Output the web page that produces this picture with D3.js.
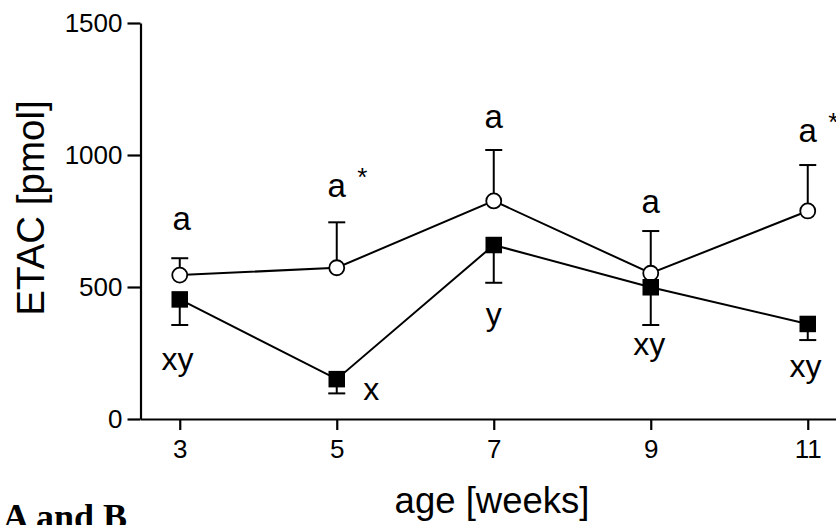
<!DOCTYPE html>
<html>
<head>
<meta charset="utf-8">
<script src="https://cdn.jsdelivr.net/npm/d3@7/dist/d3.min.js"></script>
<style>
  html, body { margin: 0; padding: 0; background: #fff; }
  svg { display: block; }
  text { font-family: "Liberation Sans", Arial, Helvetica, sans-serif; fill: #000; }
  .axis text { font-size: 26px; }
</style>
</head>
<body>
<svg id="chart" width="836" height="525"></svg>
<script>
// Sampling ages (weeks)
const weeks = [3, 5, 7, 9, 11];

// Open-circle group: mean and SEM (error bars drawn upward)
const openMeans = [545, 573, 826, 552, 788];
const openSem   = [64, 172, 193, 160, 174];

// Filled-square group: mean and SEM (error bars drawn downward)
const filledMeans = [453, 151, 659, 499, 360];
const filledSem   = [97, 54, 143, 143, 61];

// Axis ticks
const yTicks = [0, 500, 1000, 1500];
const xTicks = [3, 5, 7, 9, 11];

// Significance letters above the open-circle group (placed in data units)
const upperLetters = ["a", "a", "a", "a", "a"];
const upperLetterY = [716, 842, 1101, 779, 1050];
const upperStars   = ["", "*", "", "", "*"];

// Significance letters below the filled-square group
const lowerLetters    = ["xy", "x", "y", "xy", "xy"];
const lowerLetterWeek = [2.97, 5.44, 7, 8.98, 10.97];
const lowerLetterY    = [186, 72, 357, 242, 160];

const svg = d3.select("#chart");

const x = d3.scaleLinear().domain([2.5, 11.5]).range([140.5, 847]);
const y = d3.scaleLinear().domain([0, 1500]).range([419, 23]);

// Y axis
const yAxis = svg.append("g")
  .attr("class", "axis")
  .attr("transform", `translate(${x(2.5)},0)`)
  .call(d3.axisLeft(y).tickValues(yTicks).tickFormat(d3.format("d"))
    .tickSize(13).tickSizeOuter(0).tickPadding(5));
yAxis.attr("font-size", 26).attr("font-family", null);
yAxis.select(".domain").attr("stroke", "#000").attr("stroke-width", 2.2);
yAxis.selectAll(".tick line").attr("stroke", "#000").attr("stroke-width", 2.2);

// X axis
const xAxis = svg.append("g")
  .attr("class", "axis")
  .attr("transform", `translate(0,${y(0)})`)
  .call(d3.axisBottom(x).tickValues(xTicks).tickFormat(d3.format("d"))
    .tickSize(11).tickSizeOuter(0));
xAxis.attr("font-size", 26).attr("font-family", null);
xAxis.select(".domain").attr("stroke", "#000").attr("stroke-width", 2.2);
xAxis.selectAll(".tick line").attr("stroke", "#000").attr("stroke-width", 2.2);
xAxis.selectAll(".tick text")
  .attr("y", 38.5)
  .attr("dy", 0);

// Axis titles
svg.append("text")
  .attr("transform", `translate(43.5,${(98 + 318) / 2}) rotate(-90)`)
  .attr("text-anchor", "middle")
  .style("font-size", "38.5px")
  .text("ETAC [pmol]");

svg.append("text")
  .attr("x", 492)
  .attr("y", 513)
  .attr("text-anchor", "middle")
  .style("font-size", "36.5px")
  .text("age [weeks]");

// Caption fragment at the lower left
svg.append("text")
  .attr("x", 3)
  .attr("y", 529)
  .style("font-family", "'Liberation Serif', 'Times New Roman', serif")
  .style("font-weight", "bold")
  .style("font-size", "36px")
  .text("A and B");

const line = d3.line().x(d => x(d.w)).y(d => y(d.v));
const capHalf = 8.5;

function drawGroup(means, sem, dir, marker) {
  const pts = weeks.map((w, i) => ({ w, v: means[i], e: sem[i] }));
  const g = svg.append("g");
  g.append("path")
    .datum(pts)
    .attr("d", line)
    .attr("fill", "none")
    .attr("stroke", "#000")
    .attr("stroke-width", 2);
  // error bars (one-sided)
  const eb = g.selectAll(".eb").data(pts).enter().append("g");
  eb.append("line")
    .attr("x1", d => x(d.w)).attr("x2", d => x(d.w))
    .attr("y1", d => y(d.v)).attr("y2", d => y(d.v + dir * d.e))
    .attr("stroke", "#000").attr("stroke-width", 2);
  eb.append("line")
    .attr("x1", d => x(d.w) - capHalf).attr("x2", d => x(d.w) + capHalf)
    .attr("y1", d => y(d.v + dir * d.e)).attr("y2", d => y(d.v + dir * d.e))
    .attr("stroke", "#000").attr("stroke-width", 2);
  if (marker === "circle") {
    g.selectAll(".m").data(pts).enter().append("circle")
      .attr("cx", d => x(d.w)).attr("cy", d => y(d.v))
      .attr("r", 7.5)
      .attr("fill", "#fff").attr("stroke", "#000").attr("stroke-width", 1.8);
  } else {
    const s = 16.5;
    g.selectAll(".m").data(pts).enter().append("rect")
      .attr("x", d => x(d.w) - s / 2).attr("y", d => y(d.v) - s / 2)
      .attr("width", s).attr("height", s)
      .attr("fill", "#000");
  }
}

drawGroup(openMeans, openSem, 1, "circle");
drawGroup(filledMeans, filledSem, -1, "square");

// Letters above the open-circle group
weeks.forEach((w, i) => {
  svg.append("text")
    .attr("x", x(w) + (i === 0 ? 2 : 0))
    .attr("y", y(upperLetterY[i]))
    .attr("text-anchor", "middle")
    .style("font-size", "33px")
    .text(upperLetters[i]);
  if (upperStars[i]) {
    svg.append("text")
      .attr("x", x(w) + 25.5)
      .attr("y", y(upperLetterY[i]) - 11)
      .attr("text-anchor", "middle")
      .style("font-size", "26px")
      .text(upperStars[i]);
  }
});

// Letters below the filled-square group
lowerLetters.forEach((t, i) => {
  svg.append("text")
    .attr("x", x(lowerLetterWeek[i]))
    .attr("y", y(lowerLetterY[i]))
    .attr("text-anchor", "middle")
    .style("font-size", "32px")
    .text(t);
});
</script>
</body>
</html>
